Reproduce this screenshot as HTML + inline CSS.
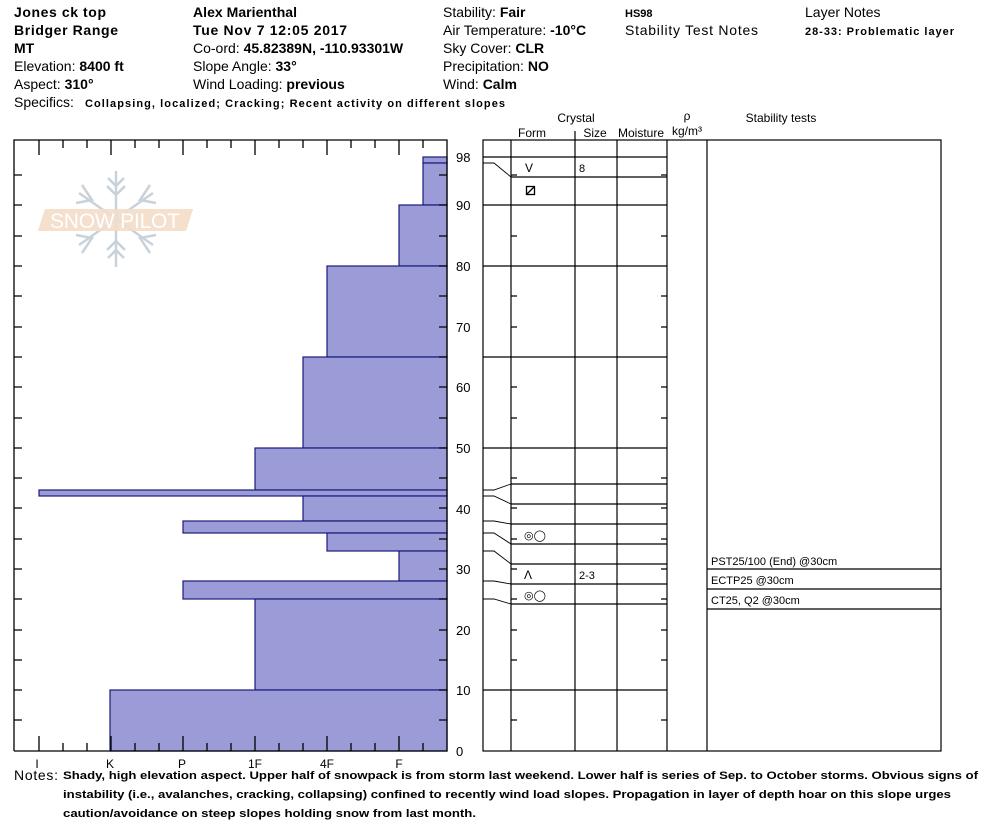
<!DOCTYPE html>
<html><head><meta charset="utf-8"><style>
html,body{margin:0;padding:0;background:#fff;}
svg{display:block;font-family:"Liberation Sans",Arial,sans-serif;}
.b{font-weight:bold}
</style></head><body>
<svg width="994" height="840" viewBox="0 0 994 840" xmlns="http://www.w3.org/2000/svg">
<g font-size="14" fill="#000">
<text x="14" y="17" class="b" textLength="92">Jones ck top</text>
<text x="14" y="35" class="b" textLength="104">Bridger Range</text>
<text x="14" y="53" class="b">MT</text>
<text x="14" y="71">Elevation: <tspan class="b">8400 ft</tspan></text>
<text x="14" y="89">Aspect: <tspan class="b">310°</tspan></text>
<text x="14" y="107">Specifics: </text>
<text x="85" y="107" class="b" font-size="11" textLength="420">Collapsing, localized; Cracking; Recent activity on different slopes</text>
<text x="193" y="17" class="b" textLength="104">Alex Marienthal</text>
<text x="193" y="35" class="b" textLength="154">Tue Nov 7 12:05 2017</text>
<text x="193" y="53">Co-ord: <tspan class="b">45.82389N, -110.93301W</tspan></text>
<text x="193" y="71">Slope Angle: <tspan class="b">33°</tspan></text>
<text x="193" y="89">Wind Loading: <tspan class="b">previous</tspan></text>
<text x="443" y="17">Stability: <tspan class="b">Fair</tspan></text>
<text x="443" y="35">Air Temperature: <tspan class="b">-10°C</tspan></text>
<text x="443" y="53">Sky Cover: <tspan class="b">CLR</tspan></text>
<text x="443" y="71">Precipitation: <tspan class="b">NO</tspan></text>
<text x="443" y="89">Wind:  <tspan class="b">Calm</tspan></text>
<text x="625" y="17" class="b" font-size="11">HS98</text>
<text x="625" y="35" textLength="133">Stability Test Notes</text>
<text x="805" y="17">Layer Notes</text>
<text x="805" y="35" class="b" font-size="11" textLength="149">28-33: Problematic layer</text>
</g>
<!-- logo -->
<g opacity="0.9">
<polygon points="45,209 193,209 186,231 38,231" fill="#f3dcc8"/>
<g stroke="#c3ced8" stroke-width="2.5" fill="none">
<line x1="116" y1="171" x2="116" y2="267"/>
<line x1="79" y1="193" x2="153" y2="245"/><line x1="153" y1="193" x2="79" y2="245"/>
<polyline points="108,178 116,186 124,178"/><polyline points="108,258 116,250 124,258"/>
<polyline points="107,186 116,195 125,186"/><polyline points="107,250 116,241 125,250"/>
<polyline points="82,185 92,200 76,203"/><polyline points="150,185 140,200 156,203"/>
<polyline points="82,253 92,238 76,235"/><polyline points="150,253 140,238 156,235"/>
</g>
<polygon points="45,209 193,209 186,231 38,231" fill="#f3dcc8" opacity="0.85"/>
<text x="115" y="228" font-size="21" fill="#fff" text-anchor="middle" font-family="Liberation Sans Narrow,Liberation Sans,sans-serif" textLength="130">SNOW PILOT</text>
</g>
<!-- left bars -->
<g fill="#9b9bd7" stroke="#1a1a7a" stroke-width="1.2">
<rect x="423" y="157" width="24" height="6"/>
<rect x="423" y="163" width="24" height="42"/>
<rect x="399" y="205" width="48" height="61"/>
<rect x="327" y="266" width="120" height="91"/>
<rect x="303" y="357" width="144" height="91"/>
<rect x="255" y="448" width="192" height="42"/>
<rect x="39" y="490" width="408" height="6"/>
<rect x="303" y="496" width="144" height="25"/>
<rect x="183" y="521" width="264" height="12"/>
<rect x="327" y="533" width="120" height="18"/>
<rect x="399" y="551" width="48" height="30"/>
<rect x="183" y="581" width="264" height="18"/>
<rect x="255" y="599" width="192" height="91"/>
<rect x="110" y="690" width="337" height="61"/>
</g>
<g stroke="#000" stroke-width="1.3" fill="none">
<polyline points="14,751 14,140 447,140 447,751 14,751"/>
<path d="M39,140v15M111,140v15M183,140v15M255,140v15M327,140v15M399,140v15M63,140v8M87,140v8M135,140v8M159,140v8M207,140v8M231,140v8M279,140v8M303,140v8M351,140v8M375,140v8M423,140v8
M39,751v-15M111,751v-15M183,751v-15M255,751v-15M327,751v-15M399,751v-15M63,751v-8M87,751v-8M135,751v-8M159,751v-8M207,751v-8M231,751v-8M279,751v-8M303,751v-8M351,751v-8M375,751v-8M423,751v-8
M14,175h8M14,205h8M14,236h8M14,266h8M14,296h8M14,327h8M14,357h8M14,387h8M14,418h8M14,448h8M14,478h8M14,508h8M14,539h8M14,569h8M14,599h8M14,630h8M14,660h8M14,690h8M14,720h8
M447,175h-8M447,205h-8M447,236h-8M447,266h-8M447,296h-8M447,327h-8M447,357h-8M447,387h-8M447,418h-8M447,448h-8M447,478h-8M447,508h-8M447,539h-8M447,569h-8M447,599h-8M447,630h-8M447,660h-8M447,690h-8M447,720h-8"/>
</g>
<g font-size="13" fill="#000">
<text x="456" y="162">98</text><text x="456" y="210">90</text><text x="456" y="271">80</text><text x="456" y="332">70</text><text x="456" y="392">60</text><text x="456" y="453">50</text><text x="456" y="514">40</text><text x="456" y="574">30</text><text x="456" y="635">20</text><text x="456" y="695">10</text><text x="456" y="756">0</text>
</g>
<g font-size="12" fill="#000" text-anchor="middle" font-family="Liberation Sans Narrow,Liberation Sans,sans-serif">
<text x="37" y="768">I</text><text x="110" y="768">K</text><text x="182" y="768">P</text><text x="255" y="768">1F</text><text x="327" y="768">4F</text><text x="399" y="768">F</text>
</g>
<!-- right grid -->
<g font-size="12" fill="#000" text-anchor="middle">
<text x="576" y="122">Crystal</text>
<text x="532" y="137">Form</text><text x="595" y="137">Size</text><text x="641" y="137">Moisture</text>
<text x="687" y="120">ρ</text><text x="687" y="135">kg/m³</text>
<text x="781" y="122">Stability tests</text>
</g>
<g stroke="#000" stroke-width="1.2" fill="none">
<rect x="483" y="140" width="458" height="611"/>
<path d="M511,140V751M575,131V751M617,140V751M667,140V751M707,140V751"/>
<path d="M511,157H667M511,177H667M511,205H667M511,266H667M511,357H667M511,448H667M511,484H667M511,504H667M511,524H667M511,544H667M511,564H667M511,584H667M511,604H667M511,690H667"/>
<path d="M707,569H941M707,589H941M707,609H941"/>
<path d="M483,157H511M483,205H511M483,266H511M483,357H511M483,448H511M483,690H511"/>
<path d="M483,163L494,163L511,177M483,490L494,490L511,484M483,496L494,496L511,504M483,521L494,521L511,524M483,533L494,533L511,544M483,551L494,551L511,564M483,581L494,581L511,584M483,599L494,599L511,604" stroke-width="0.9"/>
<path d="M511,175h6M511,236h6M511,296h6M511,327h6M511,387h6M511,418h6M511,478h6M511,508h6M511,539h6M511,569h6M511,599h6M511,630h6M511,660h6M511,720h6
M667,175h-6M667,236h-6M667,296h-6M667,327h-6M667,387h-6M667,418h-6M667,478h-6M667,508h-6M667,539h-6M667,569h-6M667,599h-6M667,630h-6M667,660h-6M667,720h-6"/>
</g>
<g fill="#000" font-size="11">
<text x="525" y="172" font-size="12">V</text>
<text x="579" y="172">8</text>
<rect x="526.5" y="186.5" width="8" height="8" fill="none" stroke="#000" stroke-width="1.3"/><line x1="527" y1="194" x2="534" y2="187" stroke="#000" stroke-width="1.3"/>
<text x="524" y="539">◎◯</text>
<text x="524" y="579" font-size="12">Λ</text>
<text x="579" y="579">2-3</text>
<text x="524" y="599">◎◯</text>
<text x="711" y="565">PST25/100 (End) @30cm</text>
<text x="711" y="584">ECTP25 @30cm</text>
<text x="711" y="604">CT25, Q2 @30cm</text>
</g>
<g fill="#000">
<text x="14" y="780" font-size="14" font-family="Liberation Sans Narrow,Liberation Sans,sans-serif" textLength="44">Notes:</text>
<g class="b" font-size="11" font-family="Liberation Sans Narrow,Liberation Sans,sans-serif">
<text x="63" y="779" textLength="915" lengthAdjust="spacingAndGlyphs">Shady, high elevation aspect. Upper half of snowpack is from storm last weekend. Lower half is series of Sep. to October storms. Obvious signs of</text>
<text x="63" y="798" textLength="888" lengthAdjust="spacingAndGlyphs">instability (i.e., avalanches, cracking, collapsing) confined to recently wind load slopes. Propagation in layer of depth hoar on this slope urges</text>
<text x="63" y="817" textLength="413" lengthAdjust="spacingAndGlyphs">caution/avoidance on steep slopes holding snow from last month.</text>
</g></g>
</svg>
</body></html>
